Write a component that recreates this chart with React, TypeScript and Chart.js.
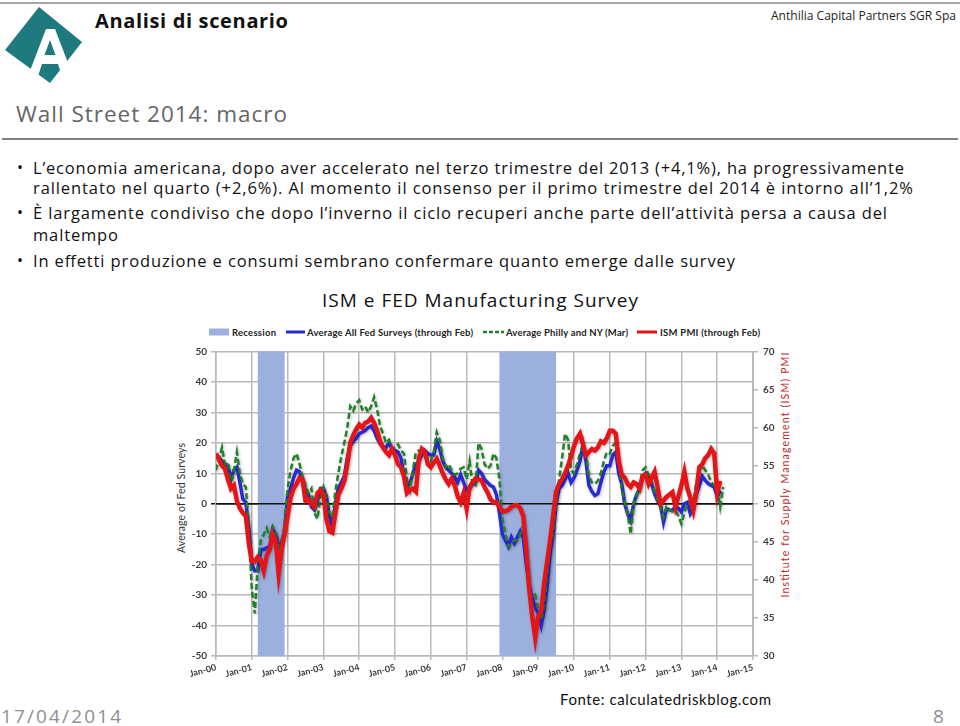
import React, { useEffect, useRef } from "react";
import { Chart, registerables } from "chart.js";

Chart.register(...registerables);

// ---------------- data ----------------
const xTickLabels = [
  "Jan-00", "Jan-01", "Jan-02", "Jan-03", "Jan-04", "Jan-05", "Jan-06", "Jan-07",
  "Jan-08", "Jan-09", "Jan-10", "Jan-11", "Jan-12", "Jan-13", "Jan-14", "Jan-15",
];
const seriesStart = "Jan-00";
const recessionStarts = ["Mar-01", "Dec-07"];
const recessionEnds = ["Nov-01", "Jun-09"];

// Average All Fed Surveys (through Feb 2014), monthly from Jan-00
const fedAllSurveys = [
  16, 15, 14, 13, 12.5, 8, 11, 12, 7, 1.5, 0.5, -8,
  -20, -22, -22, -15, -15, -14.5, -14, -8.5, -10, -14, -13, -9,
  3, 5, 8.5, 11, 10.5, 8, 4.5, 3, -1, -2, 1, 5,
  5, 2.5, -4, -7.5, 0, 5, 7, 9, 15, 19, 20.5, 21.5,
  23, 23.5, 24, 25, 25.5, 24, 21.5, 19.7, 18.5, 18.5, 20, 18,
  17.5, 17, 15, 9, 5.5, 6.5, 10, 13, 14, 16, 17.5, 16.5,
  16, 16, 20.5, 18, 14, 12, 11, 10, 8.8, 7, 9.5, 7,
  4.4, 5, 6.5, 7, 11, 10, 8, 7, 6, 5.5, 3, -3,
  -10, -12, -14, -11, -13, -11, -9, -11, -20, -27, -31, -34,
  -36, -40, -35, -27, -16, -10, 0, 5, 6, 8, 10, 7,
  8.5, 11, 14, 19.5, 14, 6, 4, 2.7, 3.3, 7, 10.5, 12.5,
  12.5, 16, 17, 10, 6.5, 0, -3.3, -5.5, 0, 3, 5, 9,
  10, 8.8, 6.6, 3.3, 1, -0.5, -6, -1.6, -2, -2.2, -1, -1.5,
  -2.7, 0, 0.5, -3.3, -1.5, 3, 6, 9, 7.7, 6.6, 6, 5.5,
  2.2, 4.4,
];

// Average Philly and NY (through Mar 2014), monthly from Jan-00
const phillyNyAverage = [
  11, 15, 18.5, 13, 13.5, 6, 11, 17, 10, 6.5, 5.5, -8,
  -28, -36, -20, -12, -10, -8, -11, -7.5, -10, -15, -12, -7,
  5, 11, 15, 16.5, 13, 9, 6, 3.3, 5, -3, -5, 2,
  5.5, 2.5, -3, -4.5, 4, 10, 15.5, 20, 25, 32, 30.5, 33,
  34, 31, 32, 30, 32, 35, 31, 25.5, 23, 20, 21, 18,
  18.5, 19.5, 17.5, 16.5, 8, 4.5, 11, 17, 17.5, 17.5, 16.5, 15,
  14, 17, 23.5, 21, 15, 12, 13, 11, 9.5, 10, 11.5, 12,
  8, 14, 6, 6, 20, 18, 13, 11.5, 12.5, 16.5, 15, 8,
  -5, -10, -14, -13, -12, -12, -10, -7, -14, -30, -31, -30,
  -34, -38, -34, -24, -14, -10, 0, 8, 15, 23, 21, 11,
  10, 13, 16.5, 18.5, 17, 9, 7, 6.5, 7.5, 10, 14, 17,
  16.5, 19, 20, 16, 4.4, 1, -3.5, -10, 0, 3, 6, 11,
  12, 9.5, 6.6, 4.5, 1, -1, -4.4, -1, -2, -2.5, -2, -4,
  -6.6, -3, 0, 0, 0.5, 7, 11, 12.5, 11, 9.5, 7, 6,
  5.5, -1, 5.5,
];

// ISM PMI (through Feb 2014), right axis, monthly from Jan-00
const ismPmi = [
  56.6, 55.8, 55.0, 54.6, 53.2, 52.0, 52.4, 50.4, 49.4, 48.8, 48.4, 44.8,
  42.4, 42.4, 43.0, 42.6, 41.2, 43.2, 44.0, 46.0, 45.2, 40.8, 44.0, 46.0,
  48.4, 50.8, 52.0, 52.6, 53.4, 53.2, 50.4, 50.6, 50.0, 49.6, 51.4, 51.8,
  51.2, 48.0, 46.4, 46.2, 48.8, 51.2, 52.0, 53.0, 55.2, 58.0, 59.0, 59.8,
  60.4, 60.0, 60.6, 60.8, 61.3, 60.6, 59.6, 58.2, 57.4, 56.8, 56.4, 57.2,
  56.4, 55.2, 54.8, 53.6, 51.4, 51.8, 52.0, 51.6, 56.0, 57.2, 56.8, 55.2,
  54.8, 55.4, 55.9, 55.0, 54.0, 53.2, 52.6, 53.3, 52.4, 51.0, 50.2, 51.4,
  49.4, 52.2, 52.8, 53.3, 53.2, 53.1, 52.2, 51.5, 50.6, 50.2, 50.2, 49.6,
  49.0, 49.0, 49.2, 49.6, 49.8, 49.8, 49.4, 48.4, 44.0, 38.8, 35.2, 32.4,
  35.2, 35.8, 39.6, 42.4, 45.2, 48.4, 51.6, 52.6, 53.2, 54.0, 55.0, 56.2,
  57.6, 58.6, 59.2, 57.8, 56.4, 56.8, 57.2, 57.0, 57.4, 58.2, 58.0, 58.6,
  59.6, 59.6, 59.2, 55.6, 53.8, 53.4, 52.6, 52.2, 52.8, 52.6, 52.0, 53.6,
  53.8, 52.6, 53.4, 54.2, 52.2, 50.0, 50.4, 50.9, 51.2, 51.5, 49.6, 51.0,
  52.4, 54.2, 52.0, 50.8, 49.2, 51.6, 54.8, 55.2, 56.0, 56.4, 57.2, 56.6,
  51.4, 53.0,
];

// ---------------- helpers ----------------
const MONTHS = ["Jan", "Feb", "Mar", "Apr", "May", "Jun", "Jul", "Aug", "Sep", "Oct", "Nov", "Dec"];
function absMonth(label: string) {
  const [m, y] = label.split("-");
  return Number(y) * 12 + MONTHS.indexOf(m);
}
function monthIndex(label: string) {
  return absMonth(label) - absMonth(seriesStart);
}
const toPoints = (arr: number[]) => arr.map((v, i) => ({ x: i, y: v }));

const RECESSION = "#9cb0de";
const GRID = "#b9b9b9";
const RED = "rgb(228,20,24)";
const BLUE = "rgb(42,42,214)";
const GREEN = "rgb(34,128,42)";
const TICK_FONT = { family: "Lato, 'Open Sans', sans-serif", size: 10, weight: "bold" as const };
const TICK_COLOR = "#3c3c3c";

const recessionPlugin = {
  id: "recessionBands",
  beforeDatasetsDraw(chart: any) {
    const { ctx, chartArea, scales } = chart;
    const xs = scales.x;
    const ys = scales.y;
    ctx.save();
    ctx.fillStyle = RECESSION;
    recessionStarts.forEach((s, i) => {
      const x1 = xs.getPixelForValue(monthIndex(s));
      const x2 = xs.getPixelForValue(monthIndex(recessionEnds[i]) + 1);
      ctx.fillRect(x1, chartArea.top, x2 - x1, chartArea.bottom - chartArea.top);
    });
    const y0 = ys.getPixelForValue(0);
    ctx.strokeStyle = "#111";
    ctx.lineWidth = 1.5;
    ctx.beginPath();
    ctx.moveTo(chartArea.left, y0);
    ctx.lineTo(chartArea.right, y0);
    ctx.stroke();
    ctx.restore();
  },
};

const glowPlugin = {
  id: "lineGlow",
  beforeDatasetDraw(chart: any) {
    const ctx = chart.ctx;
    ctx.save();
    ctx.shadowColor = "rgba(0,0,0,0.28)";
    ctx.shadowBlur = 3;
    ctx.shadowOffsetX = 1;
    ctx.shadowOffsetY = 1;
  },
  afterDatasetDraw(chart: any) {
    chart.ctx.restore();
  },
};

export default function App() {
  const canvasRef = useRef<HTMLCanvasElement>(null);

  useEffect(() => {
    const chart = new Chart(canvasRef.current as HTMLCanvasElement, {
      type: "line",
      data: {
        datasets: [
          {
            label: "ISM PMI (through Feb)",
            data: toPoints(ismPmi),
            yAxisID: "y1",
            borderColor: RED,
            borderWidth: 4.5,
            pointRadius: 0,
            tension: 0,
            order: 0,
          },
          {
            label: "Average Philly and NY (Mar)",
            data: toPoints(phillyNyAverage),
            yAxisID: "y",
            borderColor: GREEN,
            borderWidth: 2.5,
            borderDash: [6, 3],
            pointRadius: 0,
            tension: 0,
            order: 1,
          },
          {
            label: "Average All Fed Surveys (through Feb)",
            data: toPoints(fedAllSurveys),
            yAxisID: "y",
            borderColor: BLUE,
            borderWidth: 3.5,
            pointRadius: 0,
            tension: 0,
            order: 2,
          },
        ],
      } as any,
      options: {
        responsive: false,
        animation: false,
        devicePixelRatio: 1,
        layout: { padding: { top: 11.5, left: 0, right: 0, bottom: 0 } },
        plugins: { legend: { display: false }, tooltip: { enabled: false } },
        scales: {
          x: {
            type: "linear",
            min: 0,
            max: 180,
            grid: { color: GRID, lineWidth: 1.5, tickLength: 4 },
            border: { color: GRID, width: 1.5 },
            ticks: {
              stepSize: 12,
              autoSkip: false,
              maxTicksLimit: 30,
              minRotation: 15,
              maxRotation: 15,
              padding: 2,
              font: { ...TICK_FONT, size: 9 },
              color: TICK_COLOR,
              callback: (v: any) => xTickLabels[Math.round(Number(v) / 12)] ?? "",
            },
            afterFit: (s: any) => {
              s.height = 29;
            },
          },
          y: {
            position: "left",
            min: -50,
            max: 50,
            grid: {
              color: (c: any) => (c.tick && c.tick.value === 0 ? "#111" : GRID),
              lineWidth: 1.5,
              tickLength: 5,
            },
            border: { color: GRID, width: 1.5 },
            ticks: { stepSize: 10, padding: 4, font: TICK_FONT, color: TICK_COLOR },
            afterFit: (s: any) => {
              s.width = 56;
            },
          },
          y1: {
            position: "right",
            min: 30,
            max: 70,
            grid: { drawOnChartArea: false, color: GRID, lineWidth: 1.5, tickLength: 5 },
            border: { color: GRID, width: 2 },
            ticks: { stepSize: 5, padding: 5, font: TICK_FONT, color: TICK_COLOR },
            afterFit: (s: any) => {
              s.width = 67;
            },
          },
        },
      } as any,
      plugins: [recessionPlugin, glowPlugin],
    });
    return () => chart.destroy();
  }, []);

  const body = "'Open Sans', 'DejaVu Sans', sans-serif";
  const calib = "Lato, 'Open Sans', sans-serif";

  return (
    <div
      style={{
        position: "absolute",
        left: 0,
        top: 0,
        width: 960,
        height: 726,
        background: "#fff",
        overflow: "hidden",
      }}
    >
      <svg width={960} height={726} style={{ position: "absolute", left: 0, top: 0 }}>
        {/* top rule */}
        <line x1={0} y1={3} x2={960} y2={3} stroke="#8a8a8a" strokeWidth={1.5} />
        {/* logo */}
        <polygon points="39,7 82,42 50,83 5,50" fill="#1f7a80" />
        <polygon
          points="46,29 55,29 73,76 62,76 58,64 42,64 38,76 28,76"
          fill="#ffffff"
        />
        <polygon points="50,40 55.5,55 44.5,55" fill="#1f7a80" />
        <text
          x={95}
          y={28}
          fontFamily={body}
          fontWeight={700}
          fontSize={20}
          fill="#111"
          textLength={193}
          lengthAdjust="spacing"
        >
          Analisi di scenario
        </text>
        <text
          x={771}
          y={20}
          fontFamily={body}
          fontSize={12}
          fill="#222"
          textLength={185}
          lengthAdjust="spacing"
        >
          Anthilia Capital Partners SGR Spa
        </text>
        <text
          x={16}
          y={122}
          fontFamily={body}
          fontSize={22.5}
          fill="#666"
          textLength={271}
          lengthAdjust="spacing"
        >
          Wall Street 2014: macro
        </text>
        <line x1={2} y1={139} x2={958} y2={139} stroke="#555" strokeWidth={1.5} />

        {/* bullets */}
        {[173, 218, 266].map((y) => (
          <text key={y} x={17} y={y} fontFamily={body} fontSize={16} fill="#111">
            •
          </text>
        ))}
        <text x={33} y={174} fontFamily={body} fontSize={16.5} fill="#111" textLength={871} lengthAdjust="spacing">
          L’economia americana, dopo aver accelerato nel terzo trimestre del 2013 (+4,1%), ha progressivamente
        </text>
        <text x={33} y={194} fontFamily={body} fontSize={16.5} fill="#111" textLength={880} lengthAdjust="spacing">
          rallentato nel quarto (+2,6%). Al momento il consenso per il primo trimestre del 2014 è intorno all’1,2%
        </text>
        <text x={33} y={219} fontFamily={body} fontSize={16.5} fill="#111" textLength={854} lengthAdjust="spacing">
          È largamente condiviso che dopo l’inverno il ciclo recuperi anche parte dell’attività persa a causa del
        </text>
        <text x={33} y={241} fontFamily={body} fontSize={16.5} fill="#111" textLength={85} lengthAdjust="spacing">
          maltempo
        </text>
        <text x={33} y={267} fontFamily={body} fontSize={16.5} fill="#111" textLength={702} lengthAdjust="spacing">
          In effetti produzione e consumi sembrano confermare quanto emerge dalle survey
        </text>

        {/* chart title */}
        <text x={322} y={307} fontFamily={body} fontSize={19} fill="#111" textLength={316} lengthAdjust="spacing">
          ISM e FED Manufacturing Survey
        </text>

        {/* legend */}
        <rect x={209} y={328.5} width={20} height={7} fill={RECESSION} />
        <text x={232} y={335.5} fontFamily={calib} fontWeight={700} fontSize={9.5} fill="#222" textLength={44} lengthAdjust="spacing">
          Recession
        </text>
        <line x1={286} y1={332} x2={305} y2={332} stroke={BLUE} strokeWidth={3} />
        <text x={307} y={335.5} fontFamily={calib} fontWeight={700} fontSize={9.5} fill="#222" textLength={166} lengthAdjust="spacing">
          Average All Fed Surveys (through Feb)
        </text>
        <line x1={483} y1={332} x2={504} y2={332} stroke={GREEN} strokeWidth={2.5} strokeDasharray="4 2" />
        <text x={506} y={335.5} fontFamily={calib} fontWeight={700} fontSize={9.5} fill="#222" textLength={122} lengthAdjust="spacing">
          Average Philly and NY (Mar)
        </text>
        <line x1={637} y1={332} x2={657} y2={332} stroke={RED} strokeWidth={3} />
        <text x={660} y={335.5} fontFamily={calib} fontWeight={700} fontSize={9.5} fill="#222" textLength={100} lengthAdjust="spacing">
          ISM PMI (through Feb)
        </text>

        {/* axis titles */}
        <text
          transform="translate(185,498) rotate(-90)"
          textAnchor="middle"
          fontFamily={calib}
          fontSize={10.5}
          fill="#333"
          textLength={110}
          lengthAdjust="spacing"
        >
          Average of Fed Surveys
        </text>
        <text
          transform="translate(789,475) rotate(-90)"
          textAnchor="middle"
          fontFamily={calib}
          fontSize={10.5}
          fill="#c0282d"
          textLength={245}
          lengthAdjust="spacing"
        >
          Institute for Supply Management (ISM) PMI
        </text>

        {/* footer */}
        <text x={560} y={705} fontFamily={calib} fontSize={15} fill="#111" textLength={211} lengthAdjust="spacing">
          Fonte: calculatedriskblog.com
        </text>
        <text x={1} y={723} fontFamily={body} fontSize={19} fill="#8f8f8f" textLength={120} lengthAdjust="spacing">
          17/04/2014
        </text>
        <text x={933} y={723} fontFamily={body} fontSize={19} fill="#8f8f8f">
          8
        </text>
      </svg>
      <canvas
        ref={canvasRef}
        width={660}
        height={345}
        style={{ position: "absolute", left: 160, top: 340, width: 660, height: 345 }}
      />
    </div>
  );
}
